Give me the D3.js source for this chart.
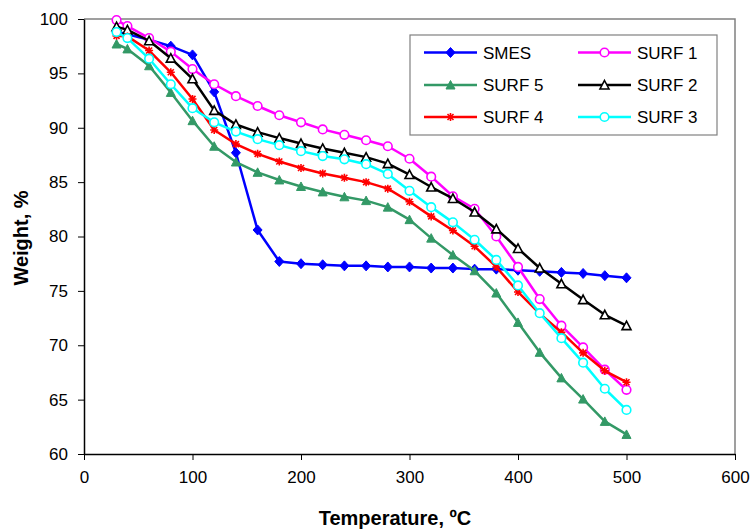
<!DOCTYPE html>
<html><head><meta charset="utf-8">
<script src="https://cdn.jsdelivr.net/npm/d3@7"></script>
<style>
body{margin:0;background:#fff;}
text{font-family:"Liberation Sans",Arial,sans-serif;}
</style></head>
<body><svg id="c" width="750" height="529"></svg>
<script>
const temps = [30,40,60,80,100,120,140,160,180,200,220,240,260,280,300,320,340,360,380,400,420,440,460,480,500];
const smes  = [98.8,98.6,98.1,97.5,96.7,93.3,87.7,80.6,77.7,77.5,77.4,77.3,77.3,77.2,77.2,77.1,77.1,77.0,77.0,76.9,76.8,76.7,76.6,76.4,76.2];
const surf1 = [99.9,99.35,98.25,97.0,95.4,94.0,92.9,92.0,91.15,90.5,89.85,89.35,88.85,88.3,87.15,85.5,83.7,82.55,80.0,77.2,74.25,71.8,69.8,67.75,65.9];
const surf5 = [97.7,97.25,95.7,93.25,90.65,88.3,86.85,85.9,85.2,84.6,84.1,83.65,83.3,82.7,81.55,79.85,78.3,76.85,74.8,72.1,69.35,67.0,65.05,63.0,61.8];
const surf2 = [99.3,99.0,98.0,96.4,94.5,91.6,90.3,89.6,89.05,88.55,88.1,87.7,87.3,86.7,85.7,84.55,83.5,82.25,80.7,78.9,77.1,75.65,74.2,72.8,71.8];
const surf4 = [98.45,98.4,97.1,95.1,92.65,89.8,88.5,87.6,86.9,86.3,85.8,85.4,85.0,84.4,83.2,81.85,80.55,79.1,77.2,74.9,72.9,71.2,69.3,67.65,66.6];
const surf3 = [98.8,98.25,96.35,94.0,91.8,90.5,89.65,88.95,88.4,87.85,87.4,87.1,86.65,85.75,84.2,82.7,81.3,79.7,77.85,75.5,72.95,70.65,68.4,66.0,64.05];
const seriesNames = ["SMES","SURF 1","SURF 5","SURF 2","SURF 4","SURF 3"];
const xTicks = [0,100,200,300,400,500,600];
const yTicks = [60,65,70,75,80,85,90,95,100];

const styles = {
  "SMES":  {color:"#0000FF", marker:"diamond"},
  "SURF 1":{color:"#FF00FF", marker:"circle"},
  "SURF 5":{color:"#339966", marker:"triFilled"},
  "SURF 2":{color:"#000000", marker:"triOpen"},
  "SURF 4":{color:"#FF0000", marker:"star"},
  "SURF 3":{color:"#00FFFF", marker:"circle"}
};
const seriesData = [smes,surf1,surf5,surf2,surf4,surf3];

const svg = d3.select("#c");
const L=84,R=735,T=19,B=454;
const x = d3.scaleLinear().domain([0,600]).range([L,R]);
const y = d3.scaleLinear().domain([60,100]).range([B,T]);

// plot border (top/right)
svg.append("path").attr("d",`M${L},${T}H${R}V${B}`).attr("fill","none").attr("stroke","#808080").attr("stroke-width",1.5);

// axes
const xa = svg.append("g").attr("transform",`translate(0,${B})`)
  .call(d3.axisBottom(x).tickValues(xTicks).tickSizeInner(6).tickSizeOuter(0).tickPadding(11).tickFormat(d3.format("d")));
const ya = svg.append("g").attr("transform",`translate(${L},0)`)
  .call(d3.axisLeft(y).tickValues(yTicks).tickSizeInner(6).tickSizeOuter(0).tickPadding(10).tickFormat(d3.format("d")));
[xa,ya].forEach(g=>{
  g.select(".domain").attr("stroke","#000").attr("stroke-width",1.5);
  g.selectAll(".tick line").attr("stroke","#000").attr("stroke-width",1);
  g.selectAll("text").attr("font-size",17).attr("fill","#000").attr("font-family","Liberation Sans, Arial, sans-serif");
});

function drawMarker(g, type, color){
  const s=4.5;
  if(type==="diamond"){
    g.append("path").attr("d",`M0,${-s-0.5}L${s},0L0,${s+0.5}L${-s},0Z`).attr("fill",color).attr("stroke",color).attr("stroke-width",1);
  } else if(type==="circle"){
    g.append("circle").attr("r",4.3).attr("fill","#fff").attr("stroke",color).attr("stroke-width",1.6);
  } else if(type==="triFilled"){
    g.append("path").attr("d",`M0,${-s}L${s},${s-0.5}L${-s},${s-0.5}Z`).attr("fill",color).attr("stroke",color).attr("stroke-width",1);
  } else if(type==="triOpen"){
    g.append("path").attr("d",`M0,${-s}L${s},${s-0.5}L${-s},${s-0.5}Z`).attr("fill","#fff").attr("stroke",color).attr("stroke-width",1.6);
  } else if(type==="star"){
    const a=4, b=3;
    g.append("path").attr("d",`M0,${-a}V${a}M${-a},0H${a}M${-b},${-b}L${b},${b}M${-b},${b}L${b},${-b}`).attr("stroke",color).attr("stroke-width",1.6).attr("fill","none");
  }
}

const line = d3.line().x(d=>x(d[0])).y(d=>y(d[1]));
seriesNames.forEach((name,i)=>{
  const st=styles[name];
  const pts = temps.map((t,j)=>[t,seriesData[i][j]]);
  const g = svg.append("g");
  g.append("path").datum(pts).attr("d",line).attr("fill","none").attr("stroke",st.color).attr("stroke-width",2.5).attr("stroke-linejoin","round");
  pts.forEach(p=>{
    const m=g.append("g").attr("transform",`translate(${x(p[0])},${y(p[1])})`);
    drawMarker(m,st.marker,st.color);
  });
});

// legend
const lg = svg.append("g");
lg.append("rect").attr("x",410).attr("y",35).attr("width",307).attr("height",100).attr("fill","#fff").attr("stroke","#808080").attr("stroke-width",1.2);
const cols=[424,578], rows=[52.5,85,117];
seriesNames.forEach((name,i)=>{
  const cx=cols[i%2], cy=rows[Math.floor(i/2)];
  const st=styles[name];
  const g=lg.append("g");
  g.append("line").attr("x1",cx).attr("x2",cx+53).attr("y1",cy).attr("y2",cy).attr("stroke",st.color).attr("stroke-width",2.5);
  const m=g.append("g").attr("transform",`translate(${cx+26.5},${cy})`);
  drawMarker(m,st.marker,st.color);
  g.append("text").attr("x",cx+59).attr("y",cy).attr("dy","0.36em").attr("font-size",17).text(name);
});

// axis titles
svg.append("text").attr("x",395).attr("y",525).attr("text-anchor","middle").attr("font-size",20).attr("font-weight","bold").text("Temperature, ºC");
svg.append("text").attr("transform","translate(28,238) rotate(-90)").attr("text-anchor","middle").attr("font-size",20).attr("font-weight","bold").text("Weight, %");
</script></body></html>
